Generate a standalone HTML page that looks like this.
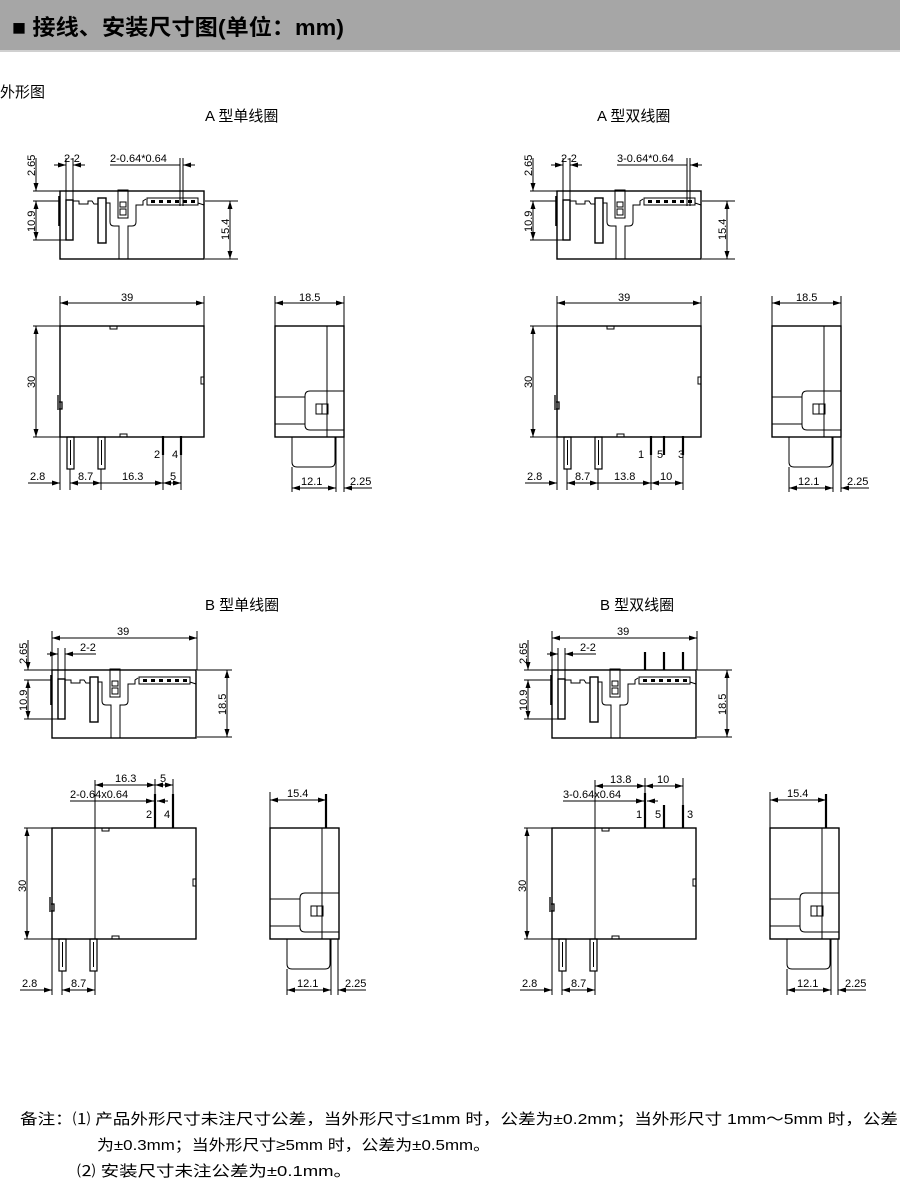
<!DOCTYPE html>
<html><head><meta charset="utf-8"><style>
body{margin:0;background:#fff;width:900px;height:1180px;overflow:hidden;font-family:"Liberation Sans","Noto Sans CJK SC",sans-serif}
svg text{font-family:"Liberation Sans","Noto Sans CJK SC",sans-serif}
</style></head><body>
<svg width="900" height="1180" viewBox="0 0 900 1180" xmlns="http://www.w3.org/2000/svg">
<defs>
<marker id="a" viewBox="0 0 8 5" refX="8" refY="2.5" markerWidth="8" markerHeight="5" markerUnits="userSpaceOnUse" orient="auto-start-reverse"><path d="M0,0 L8,2.5 L0,5z" fill="#000"/></marker>
<g id="topCore" fill="none" stroke="#000" stroke-width="1">
<rect x="60" y="191" width="144" height="68" stroke-width="1.4"/>
<path d="M73,201 L79,201 L79,204 L88,204 L88,201 L92,201 L94,204 L98,204"/>
<rect x="66" y="200" width="7" height="40" stroke-width="1.4"/>
<rect x="98" y="198" width="8" height="45" stroke-width="1.4"/>
<path d="M59,196 L59,226" stroke-width="1.6"/>
<path d="M106,203 L110,203 L110,222 Q110,226 114,226 L119,226 L119,259 M128,259 L128,226 L132,226 Q136,226 136,222 L136,205 L143,205 L143,201 L146,199"/>
<rect x="118" y="190" width="10" height="28"/>
<rect x="120" y="202" width="6" height="5"/><rect x="120" y="209" width="6" height="6"/>
<path d="M198,199 L198,203 L204,205"/>
<rect x="147" y="198" width="51" height="7"/>
<g fill="#000" stroke="none"><rect x="151" y="200" width="4" height="3"/><rect x="159" y="200" width="4" height="3"/><rect x="167" y="200" width="4" height="3"/><rect x="175" y="200" width="4" height="3"/><rect x="183" y="200" width="4" height="3"/><rect x="191" y="200" width="4" height="3"/></g>
</g>
<g id="frontCore" fill="none" stroke="#000" stroke-width="1">
<rect x="60" y="326" width="144" height="111" stroke-width="1.4"/>
<rect x="110" y="326" width="7" height="3"/>
<rect x="120" y="434" width="7" height="3"/>
<rect x="201" y="377" width="3" height="7"/>
<path d="M58,395 L58,410 M59,402 L62,402 L62,409 L59,409" stroke-width="1.3"/>
<rect x="67" y="437" width="7" height="32" stroke-width="1.2"/><path d="M70.5,440 L70.5,465"/>
<rect x="98" y="437" width="7" height="32" stroke-width="1.2"/><path d="M101.5,440 L101.5,465"/>
</g>
<g id="sideCore" fill="none" stroke="#000" stroke-width="1">
<rect x="275" y="326" width="69" height="111" stroke-width="1.4"/>
<path d="M327,326 L327,437"/>
<path d="M275,397 L305,397 M275,424 L305,424"/>
<path d="M344,391 L310,391 Q305,391 305,396 L305,425 Q305,430 310,430 L344,430"/>
<rect x="316" y="404" width="12" height="10"/><path d="M322,404 L322,414"/>
<path d="M292,437 L292,462 Q292,467 297,467 L330,467 Q335,467 335,462 L335,437"/>
</g>
</defs>

<rect x="0" y="0" width="900" height="51" fill="#a6a6a6"/>
<rect x="0" y="50" width="900" height="2" fill="#d0d0d0"/>
<text x="12" y="35" font-size="22" font-weight="bold" textLength="332" lengthAdjust="spacingAndGlyphs">■ 接线、安装尺寸图(单位：mm)</text>
<text x="0" y="97" font-size="15">外形图</text>
<text x="205" y="121" font-size="15">A 型单线圈</text>
<text x="597" y="121" font-size="15">A 型双线圈</text>
<text x="205" y="610" font-size="15">B 型单线圈</text>
<text x="600" y="610" font-size="15">B 型双线圈</text>

<g font-size="11" fill="#000" stroke="#000" stroke-width="1">
<use href="#topCore"/>
<use href="#frontCore"/>
<use href="#sideCore"/>
<g id="Adims" fill="none">
<path d="M33,191 L60,191 M33,201 L60,201 M33,240 L66,240"/>
<path d="M36,158 L36,191" marker-end="url(#a)"/>
<path d="M36,201 L36,240" marker-start="url(#a)" marker-end="url(#a)"/>
<path d="M205,201 L238,201 M205,259 L238,259"/>
<path d="M230,201 L230,259" marker-start="url(#a)" marker-end="url(#a)"/>
<path d="M66,158 L66,200 M73,158 L73,200"/>
<path d="M54,165 L66,165" marker-end="url(#a)"/><path d="M85,165 L73,165" marker-end="url(#a)"/>
<path d="M60,296 L60,326 M204,296 L204,326"/>
<path d="M60,303 L204,303" marker-start="url(#a)" marker-end="url(#a)"/>
<path d="M33,326 L60,326 M33,437 L60,437"/>
<path d="M36,326 L36,437" marker-start="url(#a)" marker-end="url(#a)"/>
<path d="M60,437 L60,490 M70,469 L70,490 M101,469 L101,490"/>
<path d="M28,483 L60,483" marker-end="url(#a)"/>
<path d="M70,483 L101,483" marker-start="url(#a)" marker-end="url(#a)"/>
<path d="M275,296 L275,326 M344,296 L344,326"/>
<path d="M275,303 L344,303" marker-start="url(#a)" marker-end="url(#a)"/>
<path d="M292,467 L292,492 M336,437 L336,492 M344,437 L344,492"/>
<path d="M292,488 L336,488" marker-start="url(#a)" marker-end="url(#a)"/>
<path d="M372,488 L344,488" marker-end="url(#a)"/>
</g>
<g stroke="none">
<text transform="translate(35,176) rotate(-90)">2.65</text>
<text transform="translate(35,232) rotate(-90)">10.9</text>
<text transform="translate(229,240) rotate(-90)">15.4</text>
<text x="64" y="162">2-2</text>
<text x="121" y="301">39</text>
<text transform="translate(35,388) rotate(-90)">30</text>
<text x="30" y="480">2.8</text>
<text x="78" y="480">8.7</text>
<text x="299" y="301">18.5</text>
<text x="301" y="485">12.1</text>
<text x="350" y="485">2.25</text>
</g>
<g fill="none">
<path d="M110,165 L180,165 M180,158 L180,206 M183,158 L183,206" />
<path d="M195,165 L183,165" marker-end="url(#a)"/>
<path d="M163,436 L163,455 M181,436 L181,455" stroke-width="2.2"/>
<path d="M163,455 L163,490 M181,455 L181,490"/>
<path d="M101,483 L163,483" marker-end="url(#a)"/>
<path d="M163,483 L181,483" marker-start="url(#a)" marker-end="url(#a)"/>
</g>
<g stroke="none">
<text x="110" y="162">2-0.64*0.64</text>
<text x="154" y="458">2</text><text x="172" y="458">4</text>
<text x="122" y="480">16.3</text><text x="170" y="480">5</text>
</g>

<g transform="translate(497,0)">
<use href="#topCore"/><use href="#frontCore"/><use href="#sideCore"/>
<use href="#Adims"/>
<g stroke="none">
<text transform="translate(35,176) rotate(-90)">2.65</text>
<text transform="translate(35,232) rotate(-90)">10.9</text>
<text transform="translate(229,240) rotate(-90)">15.4</text>
<text x="64" y="162">2-2</text>
<text x="121" y="301">39</text>
<text transform="translate(35,388) rotate(-90)">30</text>
<text x="30" y="480">2.8</text>
<text x="78" y="480">8.7</text>
<text x="299" y="301">18.5</text>
<text x="301" y="485">12.1</text>
<text x="350" y="485">2.25</text>
<text x="120" y="162">3-0.64*0.64</text>
<text x="141" y="458">1</text><text x="160" y="458">5</text><text x="181" y="458">3</text>
<text x="117" y="480">13.8</text><text x="163" y="480">10</text>
</g>
<g fill="none">
<path d="M120,165 L190,165 M190,158 L190,206 M193,158 L193,206"/>
<path d="M205,165 L193,165" marker-end="url(#a)"/>
<path d="M154,436 L154,455 M167,436 L167,455 M186,436 L186,455" stroke-width="2.2"/>
<path d="M154,455 L154,490 M186,455 L186,490"/>
<path d="M101,483 L154,483" marker-end="url(#a)"/>
<path d="M154,483 L186,483" marker-start="url(#a)" marker-end="url(#a)"/>
</g>
</g>

<g id="Bleft">
<g transform="translate(-8,479)"><use href="#topCore"/></g>
<g transform="translate(-8,502)"><use href="#frontCore"/></g>
<g transform="translate(-5,502)"><use href="#sideCore"/></g>
<g id="Bdims" fill="none">
<path d="M52,631 L52,670 M197,631 L197,670"/>
<path d="M52,638 L197,638" marker-start="url(#a)" marker-end="url(#a)"/>
<path d="M24,670 L52,670 M24,680 L52,680 M24,719 L58,719"/>
<path d="M28,640 L28,670" marker-end="url(#a)"/>
<path d="M28,680 L28,719" marker-start="url(#a)" marker-end="url(#a)"/>
<path d="M58,648 L58,679 M65,648 L65,679"/>
<path d="M47,654 L58,654" marker-end="url(#a)"/><path d="M96,654 L65,654" marker-end="url(#a)"/>
<path d="M197,670 L232,670 M197,737 L232,737"/>
<path d="M227,670 L227,737" marker-start="url(#a)" marker-end="url(#a)"/>
<path d="M95,828 L95,939"/>
<path d="M24,828 L52,828 M24,939 L52,939"/>
<path d="M27,828 L27,939" marker-start="url(#a)" marker-end="url(#a)"/>
<path d="M52,939 L52,995 M62,971 L62,995 M95,971 L95,995 M95,780 L95,828"/>
<path d="M20,990 L52,990" marker-end="url(#a)"/>
<path d="M62,990 L95,990" marker-start="url(#a)" marker-end="url(#a)"/>
<path d="M270,792 L270,828"/>
<path d="M270,800 L326,800" marker-start="url(#a)" marker-end="url(#a)"/>
<path d="M326,794 L326,828" stroke-width="2.2"/>
<path d="M287,969 L287,995 M331,939 L331,995 M338,939 L338,995"/>
<path d="M287,990 L331,990" marker-start="url(#a)" marker-end="url(#a)"/>
<path d="M366,990 L338,990" marker-end="url(#a)"/>
</g>
<g stroke="none">
<text x="117" y="635">39</text>
<text transform="translate(27,664) rotate(-90)">2.65</text>
<text transform="translate(27,711) rotate(-90)">10.9</text>
<text x="80" y="651">2-2</text>
<text transform="translate(226,715) rotate(-90)">18.5</text>
<text transform="translate(26,892) rotate(-90)">30</text>
<text x="22" y="987">2.8</text>
<text x="71" y="987">8.7</text>
<text x="287" y="797">15.4</text>
<text x="297" y="987">12.1</text>
<text x="345" y="987">2.25</text>
</g>
</g>
<g fill="none">
<path d="M155,794 L155,828 M173,794 L173,828" stroke-width="2.2"/>
<path d="M155,779 L155,794 M173,779 L173,794"/>
<path d="M95,785 L155,785" marker-start="url(#a)" marker-end="url(#a)"/>
<path d="M155,785 L173,785" marker-start="url(#a)" marker-end="url(#a)"/>
<path d="M70,801 L155,801" /><path d="M148,801 L154,801" marker-end="url(#a)"/><path d="M168,801 L157,801" marker-end="url(#a)"/>
</g>
<g stroke="none">
<text x="115" y="782">16.3</text><text x="160" y="782">5</text>
<text x="70" y="798">2-0.64x0.64</text>
<text x="146" y="818">2</text><text x="164" y="818">4</text>
</g>

<g transform="translate(500,0)">
<use href="#Bleft"/>
<g fill="none">
<path d="M145,793 L145,828 M164,805 L164,828 M183,805 L183,828" stroke-width="2.2"/>
<path d="M145,652 L145,670 M164,652 L164,670 M183,652 L183,670" stroke-width="2.2"/>
<path d="M145,778 L145,793 M183,778 L183,805"/>
<path d="M95,786 L145,786" marker-start="url(#a)" marker-end="url(#a)"/>
<path d="M145,786 L183,786" marker-start="url(#a)" marker-end="url(#a)"/>
<path d="M63,801 L145,801"/><path d="M138,801 L144,801" marker-end="url(#a)"/><path d="M158,801 L147,801" marker-end="url(#a)"/>
</g>
<g stroke="none">
<text x="110" y="783">13.8</text><text x="157" y="783">10</text>
<text x="63" y="798">3-0.64x0.64</text>
<text x="136" y="818">1</text><text x="155" y="818">5</text><text x="187" y="818">3</text>
</g>
</g>
</g>

<g font-size="15" fill="#000">
<text x="20" y="1124" textLength="878" lengthAdjust="spacingAndGlyphs">备注：⑴ 产品外形尺寸未注尺寸公差，当外形尺寸≤1mm 时，公差为±0.2mm；当外形尺寸 1mm～5mm 时，公差</text>
<text x="97" y="1150" textLength="393" lengthAdjust="spacingAndGlyphs">为±0.3mm；当外形尺寸≥5mm 时，公差为±0.5mm。</text>
<text x="77" y="1176" textLength="275" lengthAdjust="spacingAndGlyphs">⑵ 安装尺寸未注公差为±0.1mm。</text>
</g>
</svg>
</body></html>
